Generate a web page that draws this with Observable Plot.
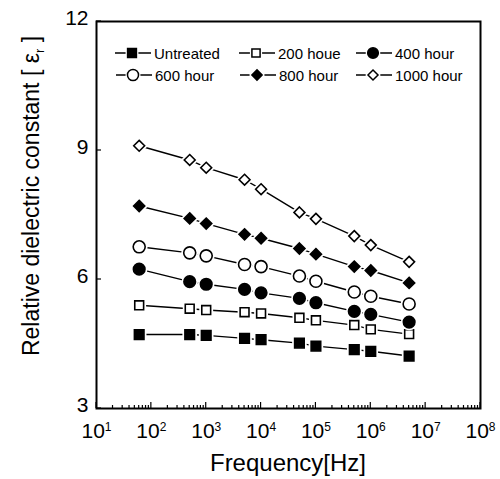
<!DOCTYPE html>
<html><head><meta charset="utf-8">
<script src="https://cdn.jsdelivr.net/npm/d3@7"></script>
<script src="https://cdn.jsdelivr.net/npm/@observablehq/plot@0.6"></script>
<style>
body{margin:0;background:#fff;}
#chart{width:500px;height:479px;}
</style></head><body><div id="chart"></div>
<script>
// ---- data ----
const frequencies = [60, 500, 1e3, 5e3, 1e4, 5e4, 1e5, 5e5, 1e6, 5e6];
const seriesNames = ["Untreated", "200 houe", "400 hour", "600 hour", "800 hour", "1000 hour"];
const untreated = [4.72, 4.72, 4.70, 4.63, 4.60, 4.52, 4.45, 4.37, 4.33, 4.22];
const hour200  = [5.40, 5.32, 5.29, 5.24, 5.21, 5.11, 5.05, 4.94, 4.84, 4.73];
const hour400  = [6.24, 5.95, 5.89, 5.77, 5.69, 5.56, 5.46, 5.26, 5.19, 5.01];
const hour600  = [6.76, 6.62, 6.55, 6.35, 6.30, 6.08, 5.96, 5.71, 5.61, 5.43];
const hour800  = [7.71, 7.42, 7.30, 7.05, 6.96, 6.72, 6.59, 6.30, 6.21, 5.92];
const hour1000 = [9.11, 8.78, 8.60, 8.32, 8.10, 7.56, 7.41, 7.01, 6.80, 6.41];
const xTickExponents = [1, 2, 3, 4, 5, 6, 7, 8];
const yTicks = [3, 6, 9, 12];
const xLabel = "Frequency[Hz]";
const yLabelMain = "Relative dielectric constant [ \u03b5";
const yLabelSub = "r";
const yLabelEnd = " ]";

// ---- styles ----
const seriesValues = [untreated, hour200, hour400, hour600, hour800, hour1000];
const styles = [
  {symbol: "square", fill: "black", r: 5.4},
  {symbol: "square", fill: "white", r: 5.0},
  {symbol: "circle", fill: "black", r: 5.8},
  {symbol: "circle", fill: "white", r: 6.0},
  {symbol: "diamond2", fill: "black", r: 5.0},
  {symbol: "diamond2", fill: "white", r: 4.9}
];

const rows = [];
seriesNames.forEach((s, k) => frequencies.forEach((f, i) => rows.push({series: s, k, f, v: seriesValues[k][i]})));

const marks = [
  Plot.line(rows, {x: "f", y: "v", z: "series", stroke: "black", strokeWidth: 1.4})
];
seriesNames.forEach((s, k) => {
  const d = rows.filter(r => r.k === k);
  const st = styles[k];
  marks.push(Plot.dot(d, {x: "f", y: "v", symbol: st.symbol, r: st.r, fill: "white", stroke: "white", strokeWidth: 5}));
  marks.push(Plot.dot(d, {x: "f", y: "v", symbol: st.symbol, r: st.r, fill: st.fill, stroke: "black", strokeWidth: 1.6}));
});
marks.push(Plot.axisX({ticks: xTickExponents.map(e => Math.pow(10, e)), tickSize: 0, tickPadding: 15, tickFormat: () => "10", label: null}));
marks.push(Plot.axisY({ticks: yTicks, tickSize: 0, tickPadding: 8, dy: -3, label: null}));
marks.push(Plot.frame({stroke: "black", strokeWidth: 2}));

const chart = Plot.plot({
  width: 500, height: 479,
  marginLeft: 96, marginRight: 20, marginTop: 21, marginBottom: 71,
  x: {type: "log", domain: [10, 1e8]},
  y: {domain: [3, 12]},
  style: {fontFamily: "'Liberation Sans', Arial, sans-serif", fontSize: "21px", color: "black", background: "white"},
  marks
});
document.getElementById("chart").appendChild(chart);

const svg = d3.select(chart);
const xs = chart.scale("x"), ys = chart.scale("y");
const x0 = xs.apply(10), x1 = xs.apply(1e8), y0 = ys.apply(3), y1 = ys.apply(12);

// superscripts on x tick labels
svg.selectAll('g[aria-label="x-axis tick label"] text').each(function(_, i) {
  d3.select(this).append("tspan").attr("dy", "-7.5").attr("font-size", 12).text(xTickExponents[i]);
});

// ticks (inward)
const tg = svg.append("g").attr("stroke", "black").attr("stroke-width", 1.2);
xTickExponents.forEach((e, idx) => {
  const xp = xs.apply(Math.pow(10, e));
  tg.append("line").attr("x1", xp).attr("x2", xp).attr("y1", y0).attr("y2", y0 - 6);
  if (idx < xTickExponents.length - 1) {
    for (let m = 2; m <= 9; m++) {
      const xm = xs.apply(m * Math.pow(10, e));
      tg.append("line").attr("x1", xm).attr("x2", xm).attr("y1", y0).attr("y2", y0 - 3);
    }
  }
});
yTicks.forEach(t => {
  const yp = ys.apply(t);
  tg.append("line").attr("x1", x0).attr("x2", x0 + 5).attr("y1", yp).attr("y2", yp);
});

// axis titles
svg.append("text").attr("x", (x0 + x1) / 2).attr("y", 471).attr("text-anchor", "middle")
  .attr("font-size", 24).attr("fill", "black").text(xLabel);
const yl = svg.append("text").attr("transform", "translate(39,196) rotate(-90)").attr("text-anchor", "middle")
  .attr("font-size", 23).attr("fill", "black");
yl.append("tspan").text(yLabelMain);
yl.append("tspan").attr("dy", 5).attr("font-size", 13).text(yLabelSub);
yl.append("tspan").attr("dy", -5).text(yLabelEnd);

// legend (inside the frame)
const legendPos = [[132, 53], [256, 53], [373, 53], [133, 75], [257, 75], [373, 75]];
const symMap = {square: d3.symbolSquare, circle: d3.symbolCircle, diamond2: d3.symbolDiamond2};
seriesNames.forEach((s, k) => {
  const [lx, ly] = legendPos[k];
  const st = styles[k];
  const g = svg.append("g").attr("transform", `translate(${lx},${ly})`);
  g.append("line").attr("x1", -17).attr("x2", 19).attr("stroke", "black").attr("stroke-width", 1.5);
  const path = d3.symbol(symMap[st.symbol], Math.PI * st.r * st.r * 0.85)();
  g.append("path").attr("d", path).attr("fill", "white").attr("stroke", "white").attr("stroke-width", 4);
  g.append("path").attr("d", path).attr("fill", st.fill).attr("stroke", "black").attr("stroke-width", 1.5);
  g.append("text").attr("x", 22).attr("y", 5.5).attr("text-anchor", "start").attr("font-size", 15).attr("fill", "black").text(s);
});
</script></body></html>
